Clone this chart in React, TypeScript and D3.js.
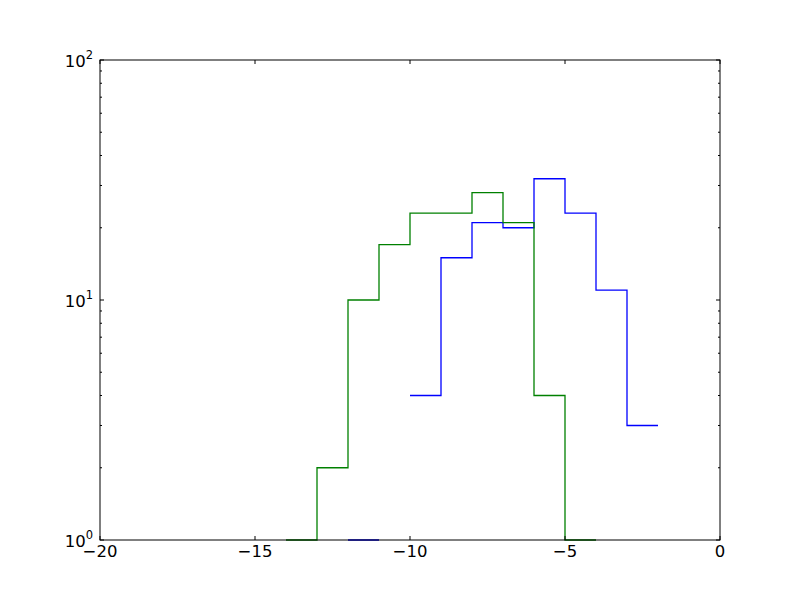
import React from "react";
import * as d3 from "d3";

const xTicks = [-20, -15, -10, -5, 0];
const yMajor = [1, 10, 100];
const yExp = ["0", "1", "2"];

// Bin edges and counts (null = no segment; 1 = clipped at axis bottom)
const greenStart = -14;
const greenCounts: (number | null)[] = [1, 2, 10, 17, 23, 23, 28, 21, 4, 1];
const blueStart = -12;
const blueCounts: (number | null)[] = [1, null, 4, 15, 21, 20, 32, 23, 11, 3];

const W = 800, H = 600;
const L = 100, R = 720, T = 60, B = 540;

function stepPoints(start: number, counts: (number | null)[]) {
  const pts: { x: number; y: number | null }[] = [];
  counts.forEach((c, i) => {
    pts.push({ x: start + i, y: c });
    pts.push({ x: start + i + 1, y: c });
  });
  return pts;
}

export default function App() {
  const x = d3.scaleLinear().domain([-20, 0]).range([L, R]);
  const y = d3.scaleLog().domain([1, 100]).range([B, T]);
  const line = d3
    .line<{ x: number; y: number | null }>()
    .defined((d) => d.y !== null)
    .x((d) => x(d.x))
    .y((d) => y(d.y as number));

  const minor: number[] = [];
  for (const dec of [1, 10]) for (let k = 2; k <= 9; k++) minor.push(dec * k);

  const font = "DejaVu Sans, sans-serif";
  return (
    <svg width={W} height={H} style={{ position: "absolute", left: 0, top: 0, background: "#fff" }}>
      <rect x={0} y={0} width={W} height={H} fill="#fff" />
      <path d={line(stepPoints(blueStart, blueCounts)) || ""} fill="none" stroke="#0000ff" strokeWidth={1.3} />
      <path d={line(stepPoints(greenStart, greenCounts)) || ""} fill="none" stroke="#008000" strokeWidth={1.3} />
      <rect x={L} y={T} width={R - L} height={B - T} fill="none" stroke="#000" strokeWidth={1} />
      {xTicks.map((t) => (
        <g key={"x" + t}>
          <line x1={x(t)} x2={x(t)} y1={B} y2={B - 4} stroke="#000" />
          <line x1={x(t)} x2={x(t)} y1={T} y2={T + 4} stroke="#000" />
          <text x={x(t)} y={557} textAnchor="middle" fontFamily={font} fontSize={16.5}>
            {t < 0 ? "\u2212" + Math.abs(t) : String(t)}
          </text>
        </g>
      ))}
      {yMajor.map((t, i) => (
        <g key={"y" + t}>
          <line x1={L} x2={L + 4} y1={y(t)} y2={y(t)} stroke="#000" />
          <line x1={R} x2={R - 4} y1={y(t)} y2={y(t)} stroke="#000" />
          <text x={93} y={y(t) + 7} textAnchor="end" fontFamily={font} fontSize={16.5}>
            10
            <tspan dy={-8} fontSize={11.5}>{yExp[i]}</tspan>
          </text>
        </g>
      ))}
      {minor.map((t) => (
        <g key={"m" + t}>
          <line x1={L} x2={L + 2} y1={y(t)} y2={y(t)} stroke="#000" />
          <line x1={R} x2={R - 2} y1={y(t)} y2={y(t)} stroke="#000" />
        </g>
      ))}
    </svg>
  );
}
